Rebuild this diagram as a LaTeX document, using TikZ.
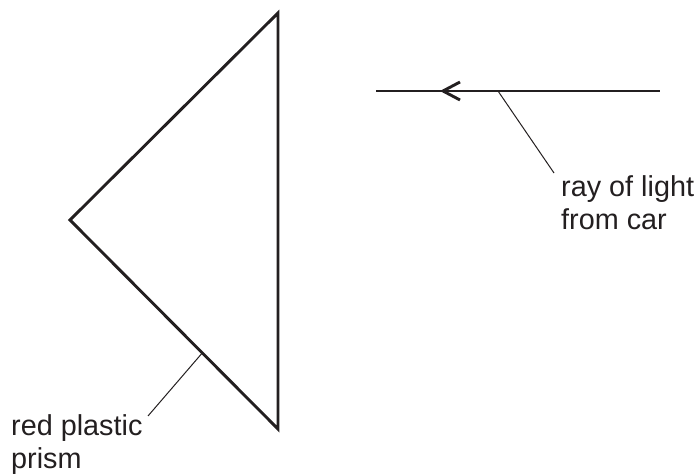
\documentclass[tikz,border=0pt]{standalone}
\usepackage{fontspec}
\setmainfont{Liberation Sans}
\usetikzlibrary{calc}
\definecolor{ink}{HTML}{231F20}
\begin{document}
\begin{tikzpicture}[x=1pt,y=1pt,
  thick line/.style={draw=ink,line width=2.9pt},
  leader/.style={draw=ink,line width=1pt},
  lbl/.style={text=ink,font=\fontsize{28.8}{33.5}\selectfont,align=left,inner sep=0pt,anchor=north west}]
\useasboundingbox (0,0) rectangle (698,476);
% prism vertices (y = 476 - pixel y)
\coordinate (T) at (278,463);
\coordinate (L) at (70,256);
\coordinate (B) at (278,47);
\draw[thick line,line join=miter] (T) -- (L) -- (B) -- cycle;
% ray of light
\coordinate (R1) at (376,385);
\coordinate (R2) at (660,385);
\coordinate (tip) at (443,385);
\draw[thick line] (R1) -- (R2);
\draw[thick line,line join=miter] ([shift={(17,9)}]tip) -- (tip) -- ([shift={(17,-9)}]tip);
% labels
\node[lbl] (raylbl) at (561,301) {ray of light\\from car};
\node[lbl] (prismlbl) at (11,62) {red plastic\\prism};
% leaders
\coordinate (rayfoot) at (498,385);
\coordinate (rayend) at (554,303);
\draw[leader] (rayfoot) -- (rayend);
\coordinate (prismfoot) at ($(L)!0.636!(B)$);
\coordinate (prismend) at (148,60);
\draw[leader] (prismfoot) -- (prismend);
\end{tikzpicture}
\end{document}
